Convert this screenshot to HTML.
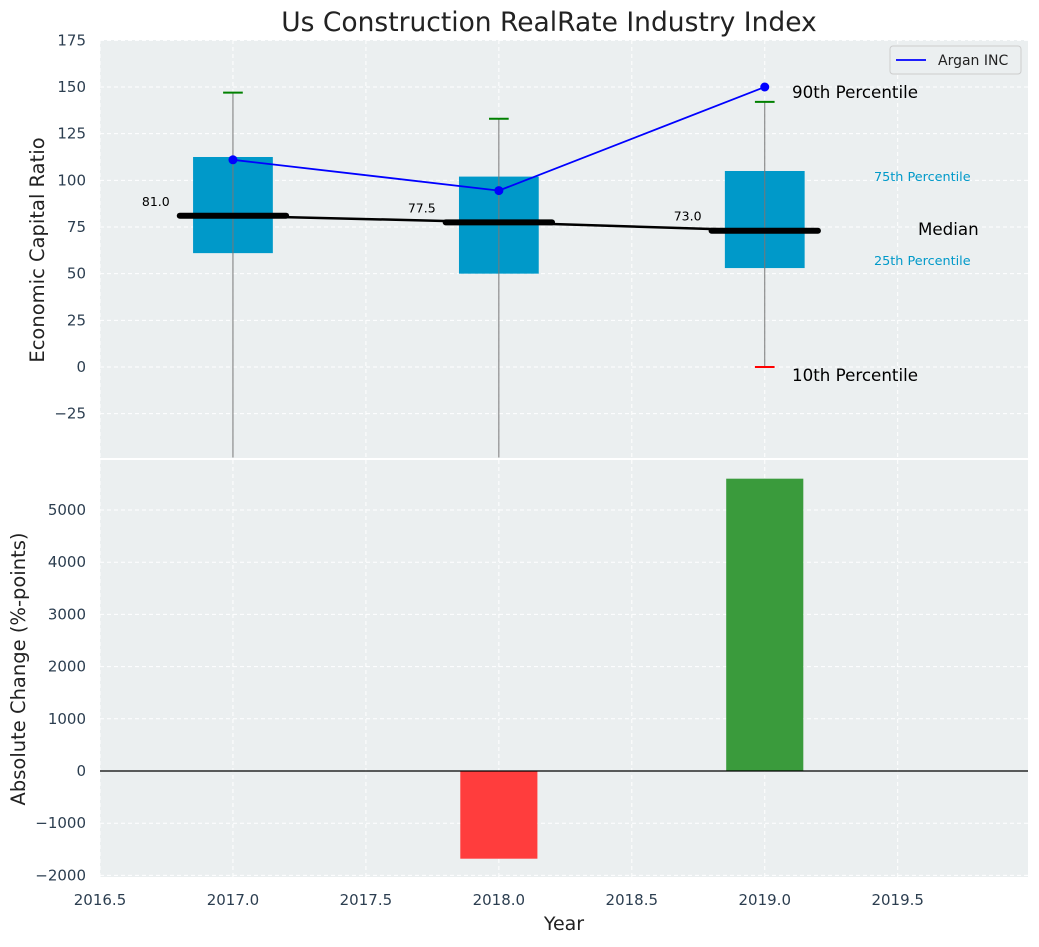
<!DOCTYPE html>
<html><head><meta charset="utf-8"><style>
body{margin:0;background:#fff;}
svg text{font-family:"DejaVu Sans","Liberation Sans",sans-serif;}
</style></head><body>
<svg id="chart" width="1039" height="942" xmlns="http://www.w3.org/2000/svg">
<text x="549" y="31" font-size="26.5" text-anchor="middle" fill="#222">Us Construction RealRate Industry Index</text>
<g id="topg"></g><g id="botg"></g>
</svg>
<script>
const years=[2017,2018,2019];
const q1=[61,50,53];
const q3=[112.5,102,105];
const medians=[81,77.5,73];
const p90=[147,133,142];
const p10=[-60,-60,0];
const argan=[111,94.5,150];
const changes=[0,-1680,5600];
const xTicks=[2016.5,2017,2017.5,2018,2018.5,2019,2019.5];
const yTopTicks=[-25,0,25,50,75,100,125,150,175];
const yBotTicks=[-2000,-1000,0,1000,2000,3000,4000,5000];

const NS="http://www.w3.org/2000/svg";
const L=100,R=1028;
const X=v=>L+(v-2016.5)/(3.49)*(R-L);
const YT=v=>367-v*1.8667;
const YB=v=>771-v*0.0522;
function mk(p,tag,a,txt){const e=document.createElementNS(NS,tag);for(const k in a)e.setAttribute(k,a[k]);if(txt!=null)e.textContent=txt;p.appendChild(e);return e;}
const topG=document.getElementById('topg'),botG=document.getElementById('botg');
let e=mk(topG,'rect',{x:L,y:40,width:R-L,height:418,fill:'#ebeff0'});


e=mk(botG,'rect',{x:L,y:460,width:R-L,height:417,fill:'#ebeff0'});


xTicks.forEach(t=>{
 mk(topG,'line',{x1:X(t),x2:X(t),y1:40,y2:458,stroke:'#fff','stroke-dasharray':'4,3','stroke-width':1});
 mk(botG,'line',{x1:X(t),x2:X(t),y1:460,y2:877,stroke:'#fff','stroke-dasharray':'4,3','stroke-width':1});
 const tx=mk(botG,'text',{x:X(t),y:905,'font-size':15,'text-anchor':'middle',fill:'#2c3e50'},t.toFixed(1));
 
 
});
yTopTicks.forEach(t=>{
 mk(topG,'line',{x1:L,x2:R,y1:YT(t),y2:YT(t),stroke:'#fff','stroke-dasharray':'4,3'});
 const tx=mk(topG,'text',{x:86,y:YT(t)+5,'font-size':15,'text-anchor':'end',fill:'#2c3e50'},t<0?'\u2212'+(-t):t);
 
 
});
yBotTicks.forEach(t=>{
 mk(botG,'line',{x1:L,x2:R,y1:YB(t),y2:YB(t),stroke:'#fff','stroke-dasharray':'4,3'});
 const tx=mk(botG,'text',{x:86,y:YB(t)+5,'font-size':15,'text-anchor':'end',fill:'#2c3e50'},t<0?'\u2212'+(-t):t);
 
 
});
years.forEach((y,i)=>{
 const b=mk(topG,'rect',{x:X(y-0.15),y:YT(q3[i]),width:X(y+0.15)-X(y-0.15),height:YT(q1[i])-YT(q3[i]),fill:'#0099c9'});
 
 
 const lo=Math.max(p10[i],-48.5);
 mk(topG,'line',{x1:X(y),x2:X(y),y1:YT(lo),y2:YT(p90[i]),stroke:'#777','stroke-width':1});
 const c=mk(topG,'line',{x1:X(y-0.037),x2:X(y+0.037),y1:YT(p90[i]),y2:YT(p90[i]),stroke:'green','stroke-width':2});
 
 
 if(p10[i]>-48.5){const d=mk(topG,'line',{x1:X(y-0.037),x2:X(y+0.037),y1:YT(p10[i]),y2:YT(p10[i]),stroke:'red','stroke-width':2});
 
 }
});
e=mk(topG,'polyline',{points:years.map((y,i)=>X(y)+','+YT(medians[i])).join(' '),fill:'none',stroke:'#000','stroke-width':2.5});


years.forEach((y,i)=>{
 const m=mk(topG,'line',{x1:X(y-0.2),x2:X(y+0.2),y1:YT(medians[i]),y2:YT(medians[i]),stroke:'#000','stroke-width':6,'stroke-linecap':'round'});
 
 
 const t=mk(topG,'text',{x:X(y-0.29),y:YT(medians[i])-10,'font-size':12.5,'text-anchor':'middle',fill:'#000'},medians[i].toFixed(1));
 
 
});
e=mk(topG,'polyline',{points:years.map((y,i)=>X(y)+','+YT(argan[i])).join(' '),fill:'none',stroke:'blue','stroke-width':1.8});


years.forEach((y,i)=>{const p=mk(topG,'circle',{cx:X(y),cy:YT(argan[i]),r:4.5,fill:'blue'});
 
 });
[[792,98,'90th Percentile',16.7,'#000'],[874,181,'75th Percentile',12.8,'#0099c9'],[918,235,'Median',16.7,'#000'],[874,265,'25th Percentile',12.8,'#0099c9'],[792,381,'10th Percentile',16.7,'#000']].forEach(a=>{
 const t=mk(topG,'text',{x:a[0],y:a[1],'font-size':a[3],fill:a[4]},a[2]);
 
 
});
e=mk(topG,'rect',{x:890,y:46,width:131,height:28,fill:'#ebeff0',stroke:'#ccc',rx:3});


mk(topG,'line',{x1:896,x2:926,y1:60,y2:60,stroke:'blue','stroke-width':1.8});
e=mk(topG,'text',{x:938,y:65,'font-size':14,fill:'#222'},'Argan INC');


years.forEach((y,i)=>{
 if(!changes[i])return;
 const v=changes[i];
 const b=mk(botG,'rect',{x:X(y-0.145),y:Math.min(YB(v),YB(0)),width:X(y+0.145)-X(y-0.145),height:Math.abs(YB(v)-YB(0)),fill:v<0?'#ff3d3d':'#3a9b3c'});
 
 
});
mk(botG,'line',{x1:L,x2:R,y1:YB(0),y2:YB(0),stroke:'#000','stroke-width':1.2});
e=mk(topG,'text',{x:44,y:250,'font-size':19.5,'text-anchor':'middle',fill:'#222',transform:'rotate(-90 44 250)'},'Economic Capital Ratio');


e=mk(botG,'text',{x:25,y:669,'font-size':19.5,'text-anchor':'middle',fill:'#222',transform:'rotate(-90 25 669)'},'Absolute Change (%-points)');


e=mk(botG,'text',{x:564,y:930,'font-size':19,'text-anchor':'middle',fill:'#222'},'Year');


</script>
</body></html>
